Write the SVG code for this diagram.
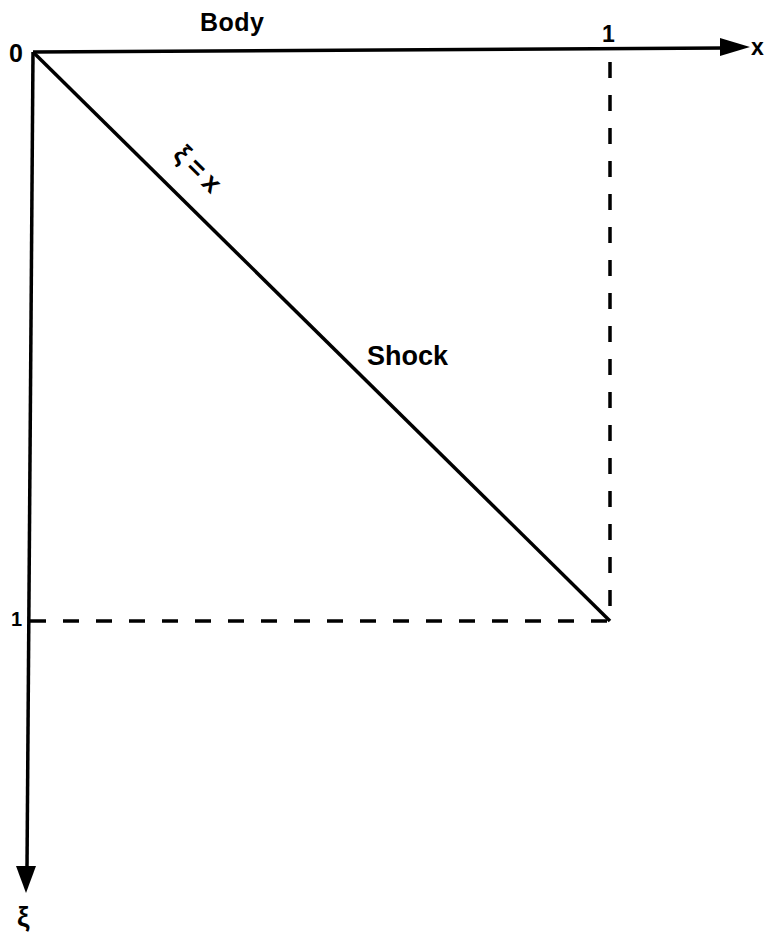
<svg xmlns="http://www.w3.org/2000/svg" width="770" height="934" viewBox="0 0 770 934">
<style>
.ax{stroke:#000;stroke-width:3.5;fill:none}
.dash{stroke:#000;stroke-width:3.5;fill:none;stroke-dasharray:16 17}
.t{font-family:"Liberation Sans",Arial,sans-serif;font-weight:bold;fill:#000}
</style>
<rect width="770" height="934" fill="#fff"/>
<g id="connectors">
<line class="ax" x1="33" y1="52" x2="724" y2="48"/>
<polygon points="720,38 750,47 720,56" fill="#000"/>
<line class="ax" x1="33" y1="52" x2="27" y2="868"/>
<polygon points="16,866 36,866 26,893" fill="#000"/>
<line class="ax" x1="33" y1="52" x2="610" y2="621"/>
<line class="dash" x1="610" y1="62" x2="610" y2="621"/>
<line class="dash" x1="30" y1="621" x2="610" y2="621"/>
</g>
<g id="labels">
<text class="t" x="200" y="31" font-size="25" letter-spacing="0.5">Body</text>
<text class="t" x="9" y="62" font-size="25">0</text>
<text class="t" x="602" y="42" font-size="23">1</text>
<text class="t" x="751" y="55" font-size="23">x</text>
<text class="t" x="11" y="626" font-size="20">1</text>
<text class="t" x="367" y="365" font-size="27">Shock</text>
<text class="t" x="0" y="0" font-size="27" transform="translate(172,156) rotate(44.7)">ξ<tspan dx="6">=</tspan><tspan dx="6">x</tspan></text>
<text class="t" x="17" y="926" font-size="28">ξ</text>
</g>
</svg>
